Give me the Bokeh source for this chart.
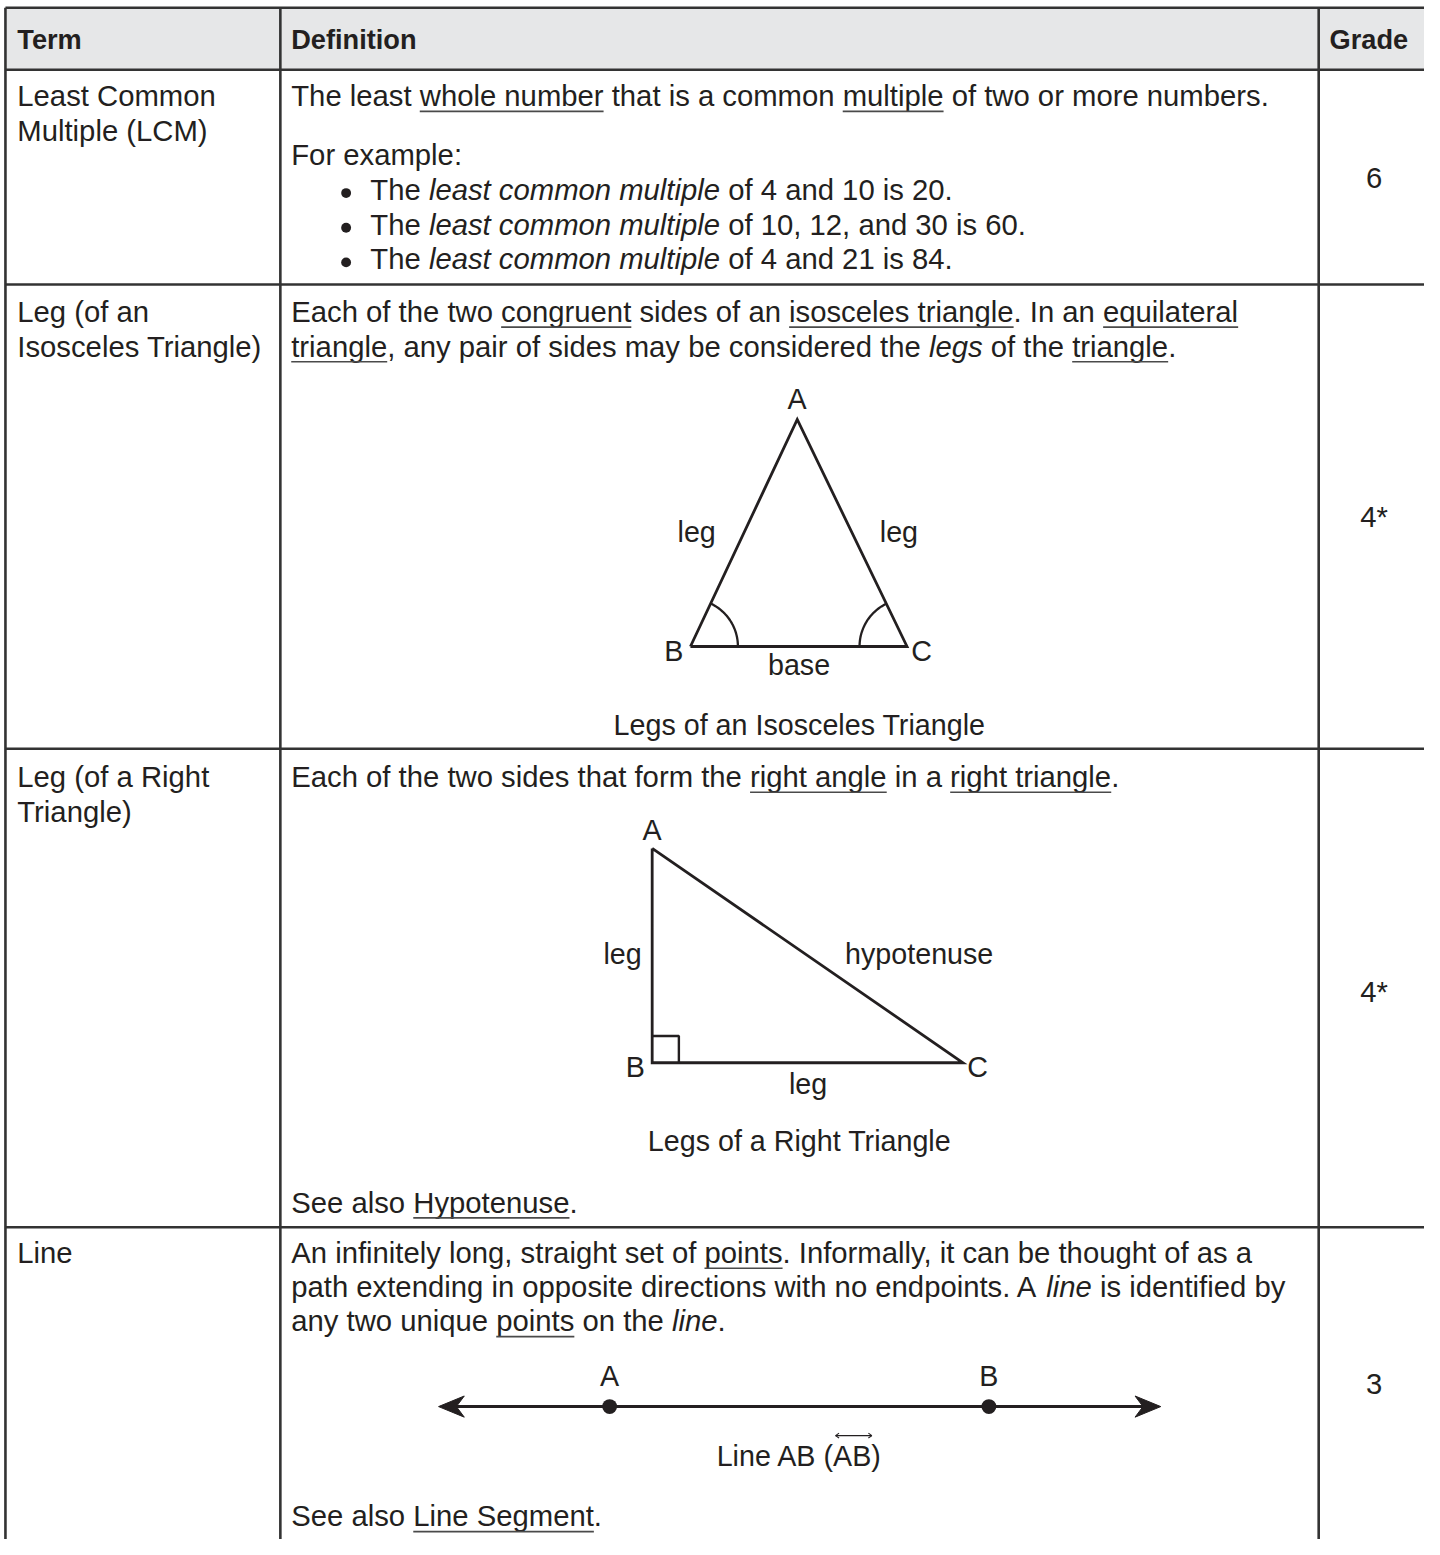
import numpy as np
from bokeh.plotting import figure
from bokeh.models import Range1d
from bokeh.embed import file_html
from bokeh.resources import INLINE
from bokeh.core.properties import value

# ---------------- data ----------------
headers = ["Term", "Definition", "Grade"]
terms = [["Least Common", "Multiple (LCM)"],
         ["Leg (of an", "Isosceles Triangle)"],
         ["Leg (of a Right", "Triangle)"],
         ["Line"]]
grades = ["6", "4*", "4*", "3"]

# definition runs: (text, style) n = normal, u = underlined, i = italic
lcm_lines = [
    [("The least ", "n"), ("whole number", "u"), (" that is a common ", "n"),
     ("multiple", "u"), (" of two or more numbers.", "n")],
    [("For example:", "n")],
]
lcm_bullets = [
    [("The ", "n"), ("least common multiple", "i"), (" of 4 and 10 is 20.", "n")],
    [("The ", "n"), ("least common multiple", "i"), (" of 10, 12, and 30 is 60.", "n")],
    [("The ", "n"), ("least common multiple", "i"), (" of 4 and 21 is 84.", "n")],
]
iso_lines = [
    [("Each of the two ", "n"), ("congruent", "u"), (" sides of an ", "n"),
     ("isosceles triangle", "u"), (". In an ", "n"), ("equilateral", "u")],
    [("triangle", "u"), (", any pair of sides may be considered the ", "n"),
     ("legs", "i"), (" of the ", "n"), ("triangle", "u"), (".", "n")],
]
right_lines = [
    [("Each of the two sides that form the ", "n"), ("right angle", "u"),
     (" in a ", "n"), ("right triangle", "u"), (".", "n")],
]
right_see = [("See also ", "n"), ("Hypotenuse", "u"), (".", "n")]
line_lines = [
    [("An infinitely long, straight set of ", "n"), ("points", "u"),
     (". Informally, it can be thought of as a", "n")],
    [("path extending in opposite directions with no endpoints. A ", "n"),
     ("line", "i"), (" is identified by", "n")],
    [("any two unique ", "n"), ("points", "u"), (" on the ", "n"),
     ("line", "i"), (".", "n")],
]
line_see = [("See also ", "n"), ("Line Segment", "u"), (".", "n")]

# diagram: isosceles triangle (B, A, C)
iso_vx = [697.7, 805.7, 916.7]
iso_vy = [652.7, 423.3, 652.7]
iso_labels = ["A", "B", "C", "leg", "leg", "base", "Legs of an Isosceles Triangle"]
# diagram: right triangle (A, B, C)
rt_vx = [659.0, 659.0, 973.3]
rt_vy = [856.7, 1073.3, 1073.3]
rt_labels = ["A", "B", "C", "leg", "hypotenuse", "leg", "Legs of a Right Triangle"]
# diagram: line AB
line_pts_x = [616.0, 999.5]
line_pts_labels = ["A", "B"]
line_caption = "Line AB (AB)"

# ---------------- layout / style ----------------
W_REF, H_REF = 1440, 1555
PW, PH = 1424, 1539
S = PW / W_REF
FONT = "Liberation Sans"
F = 29.6      # body font size (reference px)
FD = 29.0     # diagram font size
FB = 27.5     # header bold size
INK = "#231f20"
RULE = "#333333"
HEAD_FILL = "#e6e7e8"

col_x = [5, 283, 1333, 1440]
row_y = [7.3, 70, 287, 756, 1239.5, 1555]

HW = {' ': 278, '!': 278, '"': 355, '#': 556, '$': 556, '%': 889, '&': 667, "'": 191,
      '(': 333, ')': 333, '*': 389, '+': 584, ',': 278, '-': 333, '.': 278, '/': 278,
      ':': 278, ';': 278, '?': 556,
      'A': 667, 'B': 667, 'C': 722, 'D': 722, 'E': 667, 'F': 611, 'G': 778, 'H': 722,
      'I': 278, 'J': 500, 'K': 667, 'L': 556, 'M': 833, 'N': 722, 'O': 778, 'P': 667,
      'Q': 778, 'R': 722, 'S': 667, 'T': 611, 'U': 722, 'V': 667, 'W': 944, 'X': 667,
      'Y': 667, 'Z': 611,
      'a': 556, 'b': 556, 'c': 500, 'd': 556, 'e': 556, 'f': 278, 'g': 556, 'h': 556,
      'i': 222, 'j': 222, 'k': 500, 'l': 222, 'm': 833, 'n': 556, 'o': 556, 'p': 556,
      'q': 556, 'r': 333, 's': 500, 't': 278, 'u': 556, 'v': 500, 'w': 722, 'x': 500,
      'y': 500, 'z': 500}
for d in "0123456789":
    HW[d] = 556


def tw(s, size=F):
    return sum(HW.get(c, 556) for c in s) / 1000.0 * size


p = figure(width=PW, height=PH, output_backend="svg", toolbar_location=None,
           x_range=Range1d(0, W_REF), y_range=Range1d(H_REF, 0),
           min_border=0, outline_line_color=None)
p.axis.visible = False
p.grid.visible = False
p.background_fill_color = "white"
p.border_fill_color = "white"


def txt(x, base, s, size=F, style="normal", align="left", color=INK):
    # SVG collapses leading blanks: shift x instead
    if align == "left":
        lead = len(s) - len(s.lstrip(" "))
        x += tw(" " * lead, size)
        s = s.lstrip(" ")
    s = s.rstrip(" ")
    if not s:
        return
    p.text(x=[x], y=[base - 0.35 * size], text=[s], text_font=value(FONT),
           text_font_size=f"{size * S:.2f}px", text_font_style=style,
           text_color=color, text_align=align, text_baseline="middle")


ul_x0, ul_x1, ul_y = [], [], []


def draw_runs(runs, x0, base, size=F):
    x = x0
    seg_text, seg_x, seg_style = "", x0, None
    for t, st in runs:
        style = "italic" if st == "i" else "normal"
        if seg_text and style != seg_style:
            txt(seg_x, base, seg_text, size, seg_style)
            seg_text = ""
        if not seg_text:
            seg_x, seg_style = x, style
        seg_text += t
        w = tw(t, size)
        if st == "u":
            ul_x0.append(x)
            ul_x1.append(x + w)
            ul_y.append(base + 5.0)
        x += w
    if seg_text:
        txt(seg_x, base, seg_text, size, seg_style)


# header band
p.quad(left=[col_x[0]], right=[col_x[3]], top=[row_y[0]], bottom=[row_y[1]],
       fill_color=HEAD_FILL, line_color=None)

# header texts
txt(17, 49, headers[0], FB, "bold")
txt(294, 49, headers[1], FB, "bold")
txt(1344, 49, headers[2], FB, "bold")

# terms
term_base = [[107, 142], [325, 360], [795, 830], [1276]]
for lines, bases in zip(terms, term_base):
    for s, b in zip(lines, bases):
        txt(17, b, s)

# grades
grade_base = [189.5, 532, 1012, 1408]
for g, b in zip(grades, grade_base):
    txt(1389, b, g, align="center")

DX = 294
# row 1
draw_runs(lcm_lines[0], DX, 107)
draw_runs(lcm_lines[1], DX, 166)
bul_base = [202, 237, 272]
for runs, b in zip(lcm_bullets, bul_base):
    draw_runs(runs, 374, b)
p.scatter(x=[349.5] * 3, y=[b - 7.4 for b in bul_base], size=10 * S,
          marker="circle", fill_color=INK, line_color=None)

# row 2
for runs, b in zip(iso_lines, [325, 360]):
    draw_runs(runs, DX, b)
# row 3
for runs, b in zip(right_lines, [795]):
    draw_runs(runs, DX, b)
draw_runs(right_see, DX, 1225)
# row 4
for runs, b in zip(line_lines, [1276, 1310, 1345]):
    draw_runs(runs, DX, b)
draw_runs(line_see, DX, 1542)

# underlines
p.segment(x0=ul_x0, y0=ul_y, x1=ul_x1, y1=ul_y, line_color="#4a4a4a", line_width=1.6)

# table rules
hx0, hx1, hy = [], [], []
for y in row_y[:-1]:
    hx0.append(col_x[0]); hx1.append(col_x[3]); hy.append(y)
p.segment(x0=hx0, y0=hy, x1=hx1, y1=hy, line_color=RULE, line_width=2.6)
vx = col_x[:3]
p.segment(x0=vx, y0=[row_y[0]] * 3, x1=vx, y1=[row_y[-1]] * 3,
          line_color=RULE, line_width=2.6)

# ---- isosceles triangle ----
p.line(x=iso_vx + [iso_vx[0]], y=iso_vy + [iso_vy[0]], line_color=INK,
       line_width=2.8, line_join="miter")
R = 48
ang_b = np.arctan2(iso_vy[1] - iso_vy[0], iso_vx[1] - iso_vx[0])
t = np.linspace(0, ang_b, 30)
p.line(x=iso_vx[0] + R * np.cos(t), y=iso_vy[0] + R * np.sin(t), line_color=INK, line_width=2.3)
ang_c = np.arctan2(iso_vy[1] - iso_vy[2], iso_vx[1] - iso_vx[2]) + 2 * np.pi
t = np.linspace(np.pi, ang_c, 30)
p.line(x=iso_vx[2] + R * np.cos(t), y=iso_vy[2] + R * np.sin(t), line_color=INK, line_width=2.3)
iso_lpos = [(805.5, 413), (681, 667), (931.5, 667), (704, 547), (908.5, 547),
            (807.5, 682), (808, 742)]
for lab, (x, y) in zip(iso_labels, iso_lpos):
    txt(x, y, lab, FD, align="center")

# ---- right triangle ----
p.line(x=rt_vx + [rt_vx[0]], y=rt_vy + [rt_vy[0]], line_color=INK,
       line_width=2.8, line_join="miter")
sq = 27
p.line(x=[rt_vx[1], rt_vx[1] + sq, rt_vx[1] + sq], y=[rt_vy[1] - sq, rt_vy[1] - sq, rt_vy[1]],
       line_color=INK, line_width=2.4)
rt_lpos = [(659, 848), (642, 1088), (988, 1088), (629, 974), (929, 974),
           (816.7, 1105), (808, 1163)]
for lab, (x, y) in zip(rt_labels, rt_lpos):
    txt(x, y, lab, FD, align="center")

# ---- line AB ----
LY = 1420.7
LX0, LX1 = 443.0, 1173.3
p.segment(x0=[LX0 + 12], y0=[LY], x1=[LX1 - 12], y1=[LY], line_color=INK, line_width=3)
AL, AW, AN = 26, 10.7, 18
p.patch(x=[LX1, LX1 - AL, LX1 - AN, LX1 - AL], y=[LY, LY - AW, LY, LY + AW],
        fill_color=INK, line_color=INK, line_width=1)
p.patch(x=[LX0, LX0 + AL, LX0 + AN, LX0 + AL], y=[LY, LY - AW, LY, LY + AW],
        fill_color=INK, line_color=INK, line_width=1)
p.scatter(x=line_pts_x, y=[LY] * 2, size=15 * S, marker="circle",
          fill_color=INK, line_color=None)
for lab, x in zip(line_pts_labels, line_pts_x):
    txt(x, 1399.5, lab, FD, align="center")
cap_base = 1481
txt(808, cap_base, line_caption, FD, align="center")
cap_left = 808 - tw(line_caption, FD) / 2
ab0 = cap_left + tw("Line AB (", FD)
ab1 = ab0 + tw("AB", FD)
oy = 1450
p.segment(x0=[ab0 + 1], y0=[oy], x1=[ab1 - 1], y1=[oy], line_color=INK, line_width=1.1)
p.segment(x0=[ab0 + 1, ab0 + 1, ab1 - 1, ab1 - 1], y0=[oy, oy, oy, oy],
          x1=[ab0 + 4.5, ab0 + 4.5, ab1 - 4.5, ab1 - 4.5], y1=[oy - 2.5, oy + 2.5, oy - 2.5, oy + 2.5],
          line_color=INK, line_width=1.1)

open("out.html", "w").write(file_html(p, INLINE))
